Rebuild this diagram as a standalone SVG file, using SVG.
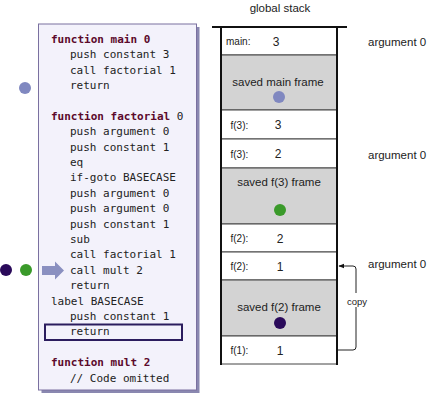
<svg xmlns="http://www.w3.org/2000/svg" width="429" height="400" viewBox="0 0 429 400">
<defs>
<style>
.code{font-family:"DejaVu Sans Mono","Liberation Mono",monospace;font-size:11px;fill:#222}
.kw{font-weight:bold;fill:#5c0a2c}
.s{font-family:"Liberation Sans",Arial,sans-serif;fill:#222}
.lbl{font-size:10px}
.val{font-size:12px}
.big{font-size:11.5px}
.row{fill:#fff;stroke:#444;stroke-width:1}
.sv{fill:#d3d3d3;stroke:#444;stroke-width:1}
</style>
<marker id="ah" viewBox="0 0 10 10" refX="9" refY="5" markerWidth="6" markerHeight="6" orient="auto">
<path d="M0,1 L10,5 L0,9 Z" fill="#111"/>
</marker>
</defs>
<rect width="429" height="400" fill="#fff"/>

<g id="code">
<rect x="41.5" y="27" width="158" height="366" fill="#8a88b0"/>
<rect x="38.5" y="24" width="158" height="366" fill="#f3f2fb" stroke="#7a70a0" stroke-width="1"/>
<text class="code kw" x="51" y="42.7">function main 0</text>
<text class="code" x="70" y="58.1">push constant 3</text>
<text class="code" x="70" y="73.5">call factorial 1</text>
<text class="code" x="70" y="88.9">return</text>
<text class="code" x="51" y="119.7"><tspan class="kw">function factorial</tspan> 0</text>
<text class="code" x="70" y="135.1">push argument 0</text>
<text class="code" x="70" y="150.5">push constant 1</text>
<text class="code" x="70" y="165.9">eq</text>
<text class="code" x="70" y="181.3">if-goto BASECASE</text>
<text class="code" x="70" y="196.7">push argument 0</text>
<text class="code" x="70" y="212.1">push argument 0</text>
<text class="code" x="70" y="227.5">push constant 1</text>
<text class="code" x="70" y="242.9">sub</text>
<text class="code" x="70" y="258.3">call factorial 1</text>
<text class="code" x="70" y="273.7">call mult 2</text>
<text class="code" x="70" y="289.1">return</text>
<text class="code" x="51" y="304.5">label BASECASE</text>
<text class="code" x="70" y="319.9">push constant 1</text>
<text class="code" x="70" y="335.3">return</text>
<text class="code kw" x="51" y="366.1">function mult 2</text>
<text class="code" x="70" y="381.5">// Code omitted</text>
<rect x="45" y="324.5" width="137" height="15.5" fill="none" stroke="#2b1d5e" stroke-width="2"/>
</g>

<g id="pointer">
<polygon points="42,266 55,266 55,261.5 64,270.5 55,279.5 55,275 42,275" fill="#8a90c0"/>
</g>

<g id="dots">
<circle cx="25" cy="88" r="6" fill="#8088c0"/>
<circle cx="6" cy="270" r="6" fill="#2a0a5a"/>
<circle cx="26" cy="270" r="6" fill="#3a9a2a"/>
</g>

<g id="stack">
<text class="s big" x="280" y="12" text-anchor="middle">global stack</text>
<rect class="row" x="221" y="27" width="116" height="28"/>
<rect class="sv" x="221" y="55" width="116" height="55"/>
<rect class="row" x="221" y="110" width="116" height="29"/>
<rect class="row" x="221" y="139" width="116" height="29"/>
<rect class="sv" x="221" y="168" width="116" height="56"/>
<rect class="row" x="221" y="224" width="116" height="28"/>
<rect class="row" x="221" y="252" width="116" height="28"/>
<rect class="sv" x="221" y="280" width="116" height="56"/>
<rect class="row" x="221" y="336" width="116" height="28"/>
<line x1="212" y1="27" x2="347" y2="27" stroke="#111" stroke-width="2"/>
<line x1="221" y1="27" x2="221" y2="365" stroke="#111" stroke-width="2"/>
<line x1="337" y1="27" x2="337" y2="365" stroke="#111" stroke-width="2"/>

<text class="s lbl" x="226" y="45">main:</text>
<text class="s val" x="276" y="45.5" text-anchor="middle">3</text>
<text class="s big" x="278" y="86" text-anchor="middle">saved main frame</text>
<circle cx="279" cy="97" r="6" fill="#8088c0"/>
<text class="s lbl" x="230.5" y="128.5">f(3):</text>
<text class="s val" x="278" y="129" text-anchor="middle">3</text>
<text class="s lbl" x="230.5" y="157.5">f(3):</text>
<text class="s val" x="278" y="158" text-anchor="middle">2</text>
<text class="s big" x="279" y="185.5" text-anchor="middle">saved f(3) frame</text>
<circle cx="280" cy="210" r="6" fill="#3a9a2a"/>
<text class="s lbl" x="230.5" y="242">f(2):</text>
<text class="s val" x="280" y="242.5" text-anchor="middle">2</text>
<text class="s lbl" x="230.5" y="270">f(2):</text>
<text class="s val" x="280" y="270.5" text-anchor="middle">1</text>
<text class="s big" x="279" y="311" text-anchor="middle">saved f(2) frame</text>
<circle cx="280" cy="323" r="6" fill="#2a0a5a"/>
<text class="s lbl" x="230.5" y="354">f(1):</text>
<text class="s val" x="280" y="354.5" text-anchor="middle">1</text>
</g>

<g id="labels">
<text class="s big" x="368" y="46">argument 0</text>
<text class="s big" x="368" y="159">argument 0</text>
<text class="s big" x="368" y="268">argument 0</text>
</g>

<g id="connectors">
<path d="M338,350 H353 Q356,350 356,347 V269 Q356,266 353,266 H339" fill="none" stroke="#222" stroke-width="1" marker-end="url(#ah)"/>
<rect x="346" y="293" width="22" height="14" fill="#fff"/>
<text class="s" x="357" y="304.5" text-anchor="middle" font-size="9.5">copy</text>
</g>
</svg>
